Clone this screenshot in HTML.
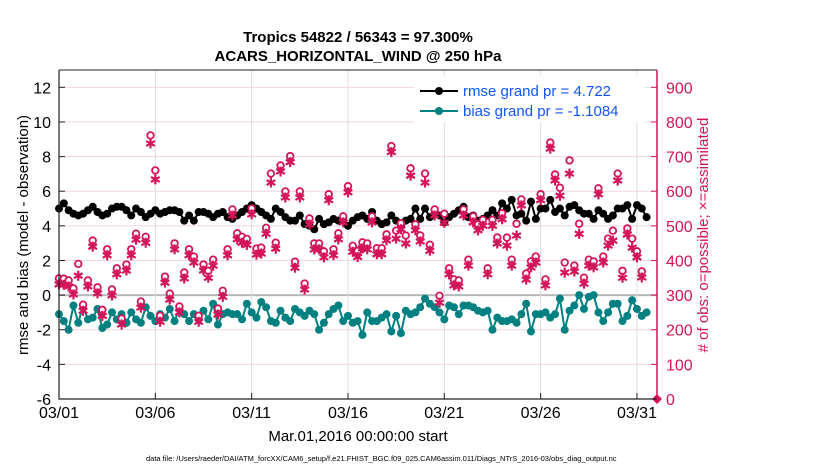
<!DOCTYPE html>
<html><head><meta charset="utf-8"><style>
body{margin:0;background:#fff;}
svg{display:block;font-family:"Liberation Sans",Arial,sans-serif;}
</style></head><body>
<svg id="chart" width="830" height="470" viewBox="0 0 830 470">
<g id="grid"></g>
<g id="series"></g>
<g id="axes"></g>
<text x="358" y="42" text-anchor="middle" font-size="15" font-weight="bold">Tropics 54822 / 56343 = 97.300%</text>
<text x="358" y="61" text-anchor="middle" font-size="15" font-weight="bold">ACARS_HORIZONTAL_WIND @ 250 hPa</text>
<text transform="translate(28,235) rotate(-90)" text-anchor="middle" font-size="15">rmse and bias (model - observation)</text>
<text transform="translate(708,235) rotate(-90)" text-anchor="middle" font-size="15" fill="#d4145a"># of obs: o=possible; ×=assimilated</text>
<text x="358" y="441" text-anchor="middle" font-size="15">Mar.01,2016 00:00:00 start</text>
<text x="146" y="461" font-size="7.5">data file: /Users/raeder/DAI/ATM_forcXX/CAM6_setup/f.e21.FHIST_BGC.f09_025.CAM6assim.011/Diags_NTrS_2016-03/obs_diag_output.nc</text>
<g>
<rect x="414" y="76" width="230" height="46" fill="#fff" stroke="#fff"/>
<line x1="420" y1="91" x2="458" y2="91" stroke="#000" stroke-width="2"/>
<circle cx="439" cy="91" r="4" fill="#000"/>
<text x="463" y="96" font-size="15" fill="#1455f5">rmse grand pr = 4.722</text>
<line x1="420" y1="111" x2="458" y2="111" stroke="#008080" stroke-width="2"/>
<circle cx="439" cy="111" r="4" fill="#008080"/>
<text x="463" y="116" font-size="15" fill="#1455f5">bias grand pr = -1.1084</text>
</g>
</svg>
<script>
const rmse=[5.0,5.3,4.9,4.7,4.6,4.7,4.9,5.1,4.8,4.6,4.7,5.0,5.1,5.1,4.9,4.6,5.0,4.8,4.5,4.7,4.9,4.7,4.8,4.9,4.9,4.8,4.3,4.6,4.3,4.8,4.8,4.7,4.5,4.7,4.8,4.5,4.4,4.6,4.8,5.0,5.2,
5.0,4.8,4.6,4.4,5.0,4.8,4.5,4.3,4.3,4.6,4.1,4.0,3.8,4.4,4.1,4.2,4.4,4.3,4.5,4.0,4.3,4.5,4.6,4.4,4.8,4.3,4.1,4.2,4.6,4.3,4.0,4.3,4.4,5.0,4.4,5.0,4.5,4.7,
4.6,4.2,4.5,4.7,4.9,5.1,4.5,4.6,4.3,4.4,4.6,4.9,4.6,5.3,5.0,5.5,4.6,4.7,4.3,5.4,4.4,5.0,5.0,5.5,4.8,5.0,4.6,5.1,5.2,4.9,4.7,4.7,4.4,4.9,4.7,4.4,4.6,5.0,5.0,5.2,4.4,5.2,5.0,4.5];
const bias=[-1.1,-1.5,-2.0,-0.6,-1.6,-0.6,-1.4,-1.3,-0.8,-1.9,-1.7,-1.0,-1.4,-1.1,-1.6,-1.0,-1.4,-1.6,-0.7,-1.2,-1.5,-1.1,-1.3,-0.8,-1.5,-0.8,-1.1,-1.5,-1.1,-1.4,-0.9,-1.4,-0.5,-1.7,-1.1,-1.0,-1.1,-1.1,-1.4,-0.5,-1.0,
-1.3,-0.4,-0.7,-1.5,-1.6,-0.9,-1.3,-1.5,-0.8,-1.0,-1.2,-0.9,-1.1,-2.0,-1.6,-1.1,-0.8,-0.6,-1.5,-1.2,-1.6,-1.5,-2.3,-1.0,-1.5,-1.5,-1.3,-1.1,-2.1,-1.2,-2.2,-0.9,-1.1,-1.0,-0.7,-0.2,-0.5,
-0.7,-1.0,-1.4,-0.6,-0.7,-1.1,-0.6,-0.6,-0.7,-0.9,-1.0,-0.9,-2.0,-1.3,-1.5,-1.5,-1.4,-1.6,-1.1,-0.5,-2.1,-1.1,-1.1,-1.0,-1.3,-1.1,-0.2,-2.0,-0.9,-0.6,0.0,-0.8,-0.1,0.0,-1.0,-1.5,-1.0,-0.5,-0.5,-1.5,-1.2,-0.3,-0.8,-1.2,-1.0];
const possible=[346,345,340,317,390,270,340,457,320,250,430,314,375,230,386,430,477,279,466,761,660,238,351,302,447,260,363,430,409,238,386,370,400,259,306,430,545,476,466,460,548,
432,435,492,651,451,668,597,699,394,597,331,519,447,447,424,589,430,476,525,612,440,425,450,447,525,433,433,473,728,486,505,472,666,502,470,651,443,544,
298,535,375,343,340,545,400,525,502,515,375,515,466,534,466,400,506,574,360,395,409,589,343,738,645,610,394,689,383,506,347,400,395,606,409,463,486,651,370,490,463,424,366,0];
const assimilated=[331,330,325,302,356,255,325,440,305,240,415,299,360,215,371,415,460,264,451,738,634,223,336,287,432,250,348,415,394,223,371,350,385,244,295,415,530,461,451,445,533,
417,420,477,625,434,657,582,684,379,582,316,504,432,432,409,574,415,461,510,597,425,410,435,432,510,418,418,458,713,463,490,449,645,487,455,625,428,530,
278,509,360,328,325,530,385,510,487,500,360,500,449,519,443,385,472,559,345,380,394,574,328,723,631,587,365,651,368,477,333,385,380,591,394,443,457,631,350,475,437,409,351,0];
const leftTicks=[-6,-4,-2,0,2,4,6,8,10,12];
const rightTicks=[0,100,200,300,400,500,600,700,800,900];
const dateTicks=[0,5,10,15,20,25,30];
const dateLabels=["03/01","03/06","03/11","03/16","03/21","03/26","03/31"];

const NS="http://www.w3.org/2000/svg";
const X0=59,X1=657,Y0=399,Y1=70;
const xS=d=>X0+(d/31.04)*(X1-X0);
const yL=v=>Y0-(v+6)/19*(Y0-Y1);
const yR=c=>Y0-c/950*(Y0-Y1);
function mk(tag,attrs,parent){const e=document.createElementNS(NS,tag);for(const k in attrs)e.setAttribute(k,attrs[k]);parent.appendChild(e);return e;}
const grid=document.getElementById('grid'),series=document.getElementById('series'),axes=document.getElementById('axes');
const red="#d4145a";

leftTicks.forEach(v=>{
 const l=mk('line',{x1:X0,x2:X1,y1:yL(v),y2:yL(v),stroke:v===0?'#b8b8b8':'#f1d6e0','stroke-width':v===0?2:1},grid);
 
 
 const t=mk('line',{x1:X0,x2:X0+6,y1:yL(v),y2:yL(v),stroke:'#222'},axes);
 
 
 const tx=mk('text',{x:X0-8,y:yL(v)+6,'text-anchor':'end','font-size':16},axes);
 tx.textContent=v;
 
 
});
dateTicks.forEach((d,i)=>{
 const l=mk('line',{x1:xS(d),x2:xS(d),y1:Y1,y2:Y0,stroke:'#dcdcdc'},grid);
 
 
 const t=mk('line',{x1:xS(d),x2:xS(d),y1:Y0,y2:Y0-6,stroke:'#222'},axes);
 
 
 const tx=mk('text',{x:xS(d),y:Y0+19,'text-anchor':'middle','font-size':16},axes);
 tx.textContent=dateLabels[i];
 
 
});
rightTicks.forEach(c=>{
 const t=mk('line',{x1:X1-6,x2:X1,y1:yR(c),y2:yR(c),stroke:red},axes);
 
 
 const tx=mk('text',{x:X1+9,y:yR(c)+6,'font-size':16,fill:red},axes);
 tx.textContent=c;
 
 
});
const axl=mk('polyline',{points:`${X0},${Y1} ${X0},${Y0} ${X1},${Y0}`,fill:'none',stroke:'#222','stroke-width':1.2},axes);


const axt=mk('line',{x1:X0,x2:X1,y1:Y1,y2:Y1,stroke:'#222','stroke-width':1},axes);


const axr=mk('line',{x1:X1,x2:X1,y1:Y1,y2:Y0,stroke:red,'stroke-width':1.5},axes);



function lineSeries(vals,color,name){
 const pts=vals.map((v,i)=>`${xS(i/4).toFixed(1)},${yL(v).toFixed(1)}`).join(' ');
 const pl=mk('polyline',{points:pts,fill:'none',stroke:color,'stroke-width':2},series);
 
 
 vals.forEach((v,i)=>{
  const c=mk('circle',{cx:xS(i/4),cy:yL(v),r:4,fill:color},series);
  
  
 });
}
lineSeries(rmse,'#000','rmse');
lineSeries(bias,'#008080','bias');

possible.forEach((c,i)=>{
 let x=xS(i/4);
 if(c===0){
  x=X1;
  const dm=mk('path',{d:`M${x},${yR(0)-5}L${x+5},${yR(0)}L${x},${yR(0)+5}L${x-5},${yR(0)}Z`,fill:red},series);
  
  
  return;
 }
 const a=assimilated[i],y=yR(a),s=5;
 const cy=Math.min(yR(c),y-6);
 const o=mk('circle',{cx:x,cy:cy,r:3.3,fill:'#fff',stroke:red,'stroke-width':1.8},series);
 
 
 const d=`M${x},${y-s}L${x},${y+s}M${x-s*0.87},${y-s/2}L${x+s*0.87},${y+s/2}M${x-s*0.87},${y+s/2}L${x+s*0.87},${y-s/2}`;
 const st=mk('path',{d:d,stroke:red,'stroke-width':2.2,fill:'none'},series);
 
 
});
</script>
</body></html>
